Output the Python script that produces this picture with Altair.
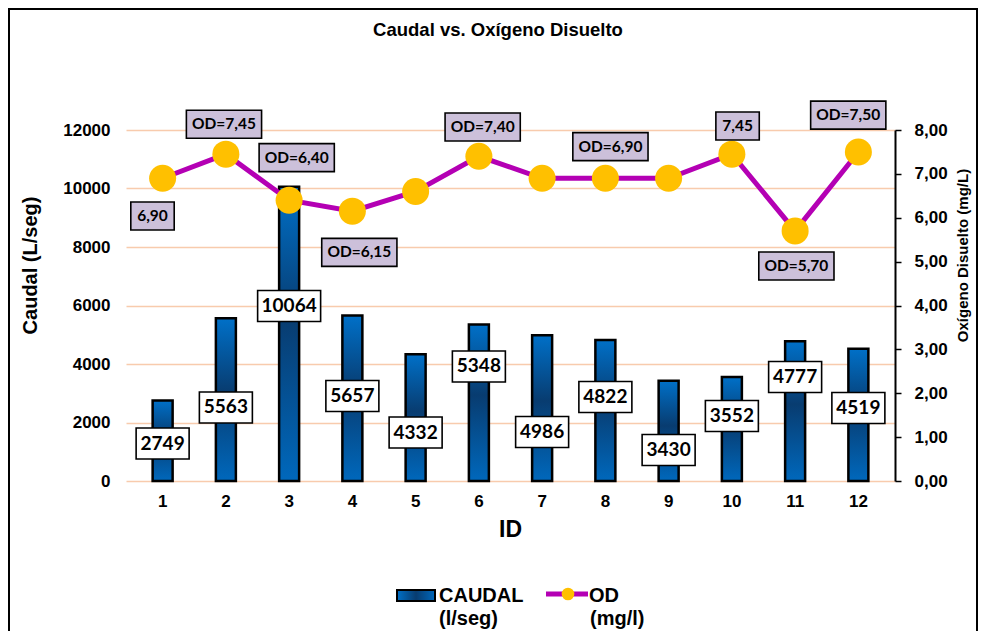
import altair as alt
import pandas as pd

# ---------------- data ----------------
ids = list(range(1, 13))
caudal = [2749, 5563, 10064, 5657, 4332, 5348, 4986, 4822, 3430, 3552, 4777, 4519]
od = [6.90, 7.45, 6.40, 6.15, 6.60, 7.40, 6.90, 6.90, 6.90, 7.45, 5.70, 7.50]
# where each CAUDAL data label sits (in L/seg units, as placed in the original)
caudal_label_at = [1282, 2513, 5983, 2906, 1658, 3915, 1675, 2872, 1060, 2222, 3556, 2496]
# OD data labels (text, and anchor in ID / mg/L units)
od_label_text = ["6,90", "OD=7,45", "OD=6,40", "OD=6,15", "", "OD=7,40", "", "OD=6,90", "", "7,45", "OD=5,70", "OD=7,50"]
od_label_id = [0.84, 1.97, 3.12, 4.11, 5.0, 6.06, 7.0, 8.08, 9.0, 10.09, 11.02, 11.84]
od_label_at = [6.04, 8.13, 7.37, 5.21, 0, 8.07, 0, 7.62, 0, 8.09, 4.90, 8.34]
left_ticks = [0, 2000, 4000, 6000, 8000, 10000, 12000]
right_ticks = [0, 1, 2, 3, 4, 5, 6, 7, 8]
title_text = "Caudal vs. Oxígeno Disuelto"
x_title = "ID"

df = pd.DataFrame({
    "id": ids, "caudal": caudal, "od": od, "cy": caudal_label_at,
    "ot": od_label_text, "ox": od_label_id, "oy": od_label_at,
})
one = pd.DataFrame({"k": [0]})

W, H = 769, 351
AX_FONT = "Liberation Sans"
LBL_FONT = "Lato"

xscale = alt.Scale(domain=[0.5, 12.5], nice=False, zero=False)
yL = alt.Scale(domain=[0, 12000], nice=False)
yR = alt.Scale(domain=[0, 8], nice=False)

bar_grad = alt.Gradient(
    gradient="linear", x1=0, x2=0, y1=0, y2=1,
    stops=[alt.GradientStop(color="#0070C8", offset=0),
           alt.GradientStop(color="#083C70", offset=0.45),
           alt.GradientStop(color="#0068BC", offset=1)])
leg_grad = alt.Gradient(
    gradient="linear", x1=0, x2=1, y1=0, y2=0,
    stops=[alt.GradientStop(color="#0070C8", offset=0),
           alt.GradientStop(color="#083C70", offset=0.5),
           alt.GradientStop(color="#0068BC", offset=1)])

base = alt.Chart(df)
X_NONE = alt.X("id:Q", scale=xscale, axis=None)

# ---------------- CAUDAL (left axis) ----------------
bars = base.mark_bar(size=20, color=bar_grad, stroke="black", strokeWidth=2.5).encode(
    x=alt.X("id:Q", scale=xscale, axis=alt.Axis(
        orient="bottom", values=ids, title=None, grid=False, ticks=False, tickSize=0,
        labels=False, domainColor="black", domainWidth=1.5, zindex=1)),
    y=alt.Y("caudal:Q", scale=yL, axis=alt.Axis(
        orient="left", values=left_ticks, format="d", title="Caudal  (L/seg)",
        grid=True, gridColor="#F8CBAD", gridWidth=1.3, domain=False, ticks=False, tickSize=0,
        labelFont=AX_FONT, labelFontSize=17, labelFontWeight="bold", labelColor="black",
        labelPadding=16,
        titleFont=AX_FONT, titleFontSize=20, titleFontWeight="bold", titleColor="black",
        titleAngle=270, titleX=-96, titleY=135, titleAlign="center", titleBaseline="middle")),
)

# ID category labels under the axis (drawn through the x scale)
x_labels = base.mark_text(font=AX_FONT, fontSize=17, fontWeight="bold", color="black",
                          baseline="middle").encode(
    x=X_NONE, y=alt.value(H + 21), text=alt.Text("id:Q", format="d"))

bar_box = base.transform_calculate(
    w="length('' + datum.caudal) * 10 + 13",
    shp="'M-1,' + (-31 / datum.w) + 'H1V' + (31 / datum.w) + 'H-1Z'",
    sz="datum.w * datum.w",
).mark_point(filled=True, fill="white", stroke="black", strokeWidth=1.6, opacity=1).encode(
    x=X_NONE,
    y=alt.Y("cy:Q", scale=yL, axis=None),
    shape=alt.Shape("shp:N", scale=None),
    size=alt.Size("sz:Q", scale=None),
)

bar_text = base.mark_text(font=LBL_FONT, fontSize=19, fontWeight="bold", color="black").encode(
    x=X_NONE,
    y=alt.Y("cy:Q", scale=yL, axis=None),
    text=alt.Text("caudal:Q", format="d"),
)

# ---------------- OD (right axis) ----------------
line = base.mark_line(color="#B400B4", strokeWidth=5).encode(
    x=X_NONE,
    y=alt.Y("od:Q", scale=yR, axis=alt.Axis(
        orient="right", values=right_ticks, grid=False,
        labelExpr="replace(format(datum.value, '.2f'), '.', ',')",
        domainColor="black", domainWidth=2, tickColor="black", tickWidth=1.5, tickSize=6,
        labelFont=AX_FONT, labelFontSize=17, labelFontWeight="bold", labelColor="black",
        labelPadding=13, title="Oxígeno Disuelto (mg/L)",
        titleFont=AX_FONT, titleFontSize=15, titleFontWeight="bold", titleColor="black",
        titleAngle=270, titleX=67, titleY=125, titleAlign="center", titleBaseline="middle")),
)

pts = base.mark_circle(size=729, color="#FFC000", opacity=1).encode(
    x=X_NONE,
    y=alt.Y("od:Q", scale=yR, axis=None),
)

od_lab = base.transform_filter("datum.ot != ''")
od_box = od_lab.transform_calculate(
    w="length(datum.ot) * 10.6 + 1",
    shp="'M-1,' + (-28 / datum.w) + 'H1V' + (28 / datum.w) + 'H-1Z'",
    sz="datum.w * datum.w",
).mark_point(filled=True, fill="#CCC0DA", stroke="black", strokeWidth=1.6, opacity=1).encode(
    x=alt.X("ox:Q", scale=xscale, axis=None),
    y=alt.Y("oy:Q", scale=yR, axis=None),
    shape=alt.Shape("shp:N", scale=None),
    size=alt.Size("sz:Q", scale=None),
)
od_text = od_lab.mark_text(font=LBL_FONT, fontSize=15.5, fontWeight="bold", color="black").encode(
    x=alt.X("ox:Q", scale=xscale, axis=None),
    y=alt.Y("oy:Q", scale=yR, axis=None),
    text="ot:N",
)

# ---------------- frame, titles & legend ----------------
frame = alt.Chart(one).mark_rect(fill="transparent", stroke="black", strokeWidth=2).encode(
    x=alt.value(-117), x2=alt.value(851), y=alt.value(-121), y2=alt.value(502))

title = alt.Chart(one).mark_text(
    font=AX_FONT, fontSize=18.5, fontWeight="bold", color="black",
    align="center", baseline="middle").encode(
    x=alt.value(372), y=alt.value(-100), text=alt.value(title_text))

xtitle = alt.Chart(one).mark_text(
    font=AX_FONT, fontSize=23, fontWeight="bold", color="black",
    align="center", baseline="middle").encode(
    x=alt.value(W / 2), y=alt.value(H + 49), text=alt.value(x_title))

leg_rect = alt.Chart(one).mark_rect(color=leg_grad, stroke="black", strokeWidth=2).encode(
    x=alt.value(271), x2=alt.value(309), y=alt.value(460), y2=alt.value(471))
leg_line = alt.Chart(one).mark_rule(color="#B400B4", strokeWidth=5).encode(
    x=alt.value(420), x2=alt.value(462), y=alt.value(464))
leg_dot = alt.Chart(one).mark_circle(size=160, color="#FFC000", opacity=1).encode(
    x=alt.value(442), y=alt.value(464))


def leg_text(txt, x, y):
    return alt.Chart(one).mark_text(
        font=AX_FONT, fontSize=20, fontWeight="bold", color="black",
        align="left", baseline="middle").encode(
        x=alt.value(x), y=alt.value(y), text=alt.value(txt))


chart = alt.layer(
    bars, x_labels, bar_box, bar_text, line, pts, od_box, od_text,
    frame, title, xtitle, leg_rect, leg_line, leg_dot,
    leg_text("CAUDAL", 313, 466), leg_text("(l/seg)", 313, 489),
    leg_text("OD", 463, 466), leg_text("(mg/l)", 464, 489),
).resolve_scale(y="independent").properties(
    width=W, height=H,
    autosize=alt.AutoSizeParams(type="none"),
    padding={"left": 118, "top": 122, "right": 83, "bottom": 150},
    background="white",
).configure_view(strokeWidth=0)

chart.save("out.html", embed_options={"renderer": "svg", "actions": False})
